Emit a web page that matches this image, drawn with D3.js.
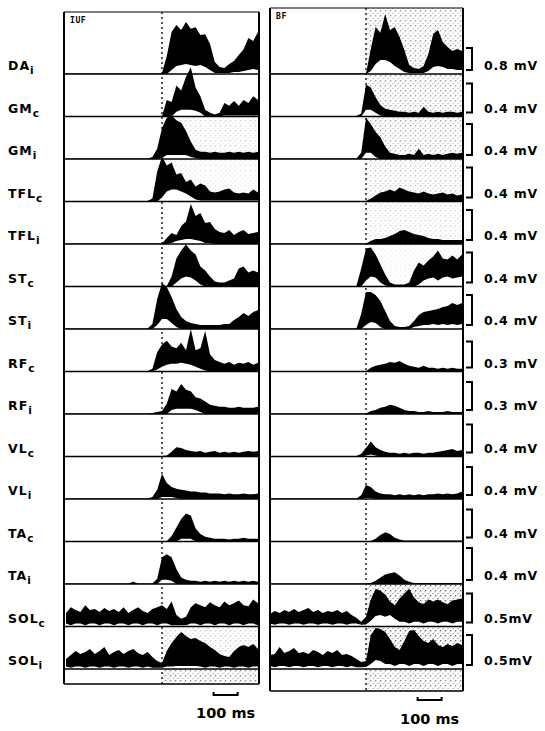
<!DOCTYPE html>
<html>
  <head>
    <meta charset="UTF-8">
    <title>EMG envelopes - IUF / BF</title>
    <style>
      body { margin: 0; background: #fff; }
      text { font-family: "DejaVu Sans", sans-serif; font-weight: bold; fill: #000; }
    </style>
  </head>
<body>
<script src="https://d3js.org/d3.v7.min.js"></script>
<script>
// rows (top to bottom)
var muscles = ["DA","GM","GM","TFL","TFL","ST","ST","RF","RF","VL","VL","TA","TA","SOL","SOL"];
var sides   = ["i","c","i","c","i","c","i","c","i","c","i","c","i","c","i"];
var calibMv = [0.8,0.4,0.4,0.4,0.4,0.4,0.4,0.3,0.3,0.4,0.4,0.4,0.4,0.5,0.5];
var calibText = ["0.8 mV","0.4 mV","0.4 mV","0.4 mV","0.4 mV","0.4 mV","0.4 mV","0.3 mV","0.3 mV",
                 "0.4 mV","0.4 mV","0.4 mV","0.4 mV","0.5mV","0.5mV"];
var panelNames = ["IUF","BF"];
var scaleBarMs = 100;

// sample times (ms, 0 = dashed line), envelopes in microvolts
var timeMs = d3.range(-400, 401, 20);

var iufUpper = [
  /* DA i */ [18,18,18,18,18,18,18,18,18,18,18,18,18,18,18,18,18,18,18,18,36,655,1530,1785,1600,1890,1650,1700,1420,1450,1090,435,255,220,365,470,690,900,1310,1200,1530],
  /* GM c */ [7,7,7,7,7,7,7,7,7,7,7,7,7,7,7,7,7,7,7,7,7,227,200,427,360,547,680,400,280,93,53,27,53,187,147,213,147,227,187,280,227],
  /* GM i */ [7,7,7,7,7,7,7,7,7,7,7,7,7,7,7,7,7,7,27,133,400,533,560,500,467,360,227,120,93,93,80,93,80,80,93,80,93,80,93,80,93],
  /* TFL c */ [7,7,7,7,7,7,7,7,7,7,7,7,7,7,7,7,7,7,40,400,600,480,520,360,380,260,293,200,240,213,133,120,133,160,173,120,107,120,107,160,120],
  /* TFL i */ [7,7,7,7,7,7,7,7,7,7,7,7,7,7,7,7,7,7,7,7,7,80,147,120,240,300,533,373,413,280,293,200,160,147,187,120,160,187,133,147,160],
  /* ST c */ [7,7,7,7,7,7,7,7,7,7,7,7,7,7,7,7,7,7,7,7,7,7,133,373,480,560,480,427,267,213,133,67,53,53,80,107,240,267,187,213,187],
  /* ST i */ [7,7,7,7,7,7,7,7,7,7,7,7,7,7,7,7,7,7,67,400,613,560,427,267,160,107,80,67,53,53,53,53,53,67,67,120,160,213,173,227,253],
  /* RF c */ [6,6,6,6,6,6,6,6,6,6,6,6,6,6,6,6,6,6,33,222,311,356,289,267,333,244,489,244,267,467,200,133,111,89,111,78,100,89,111,78,100],
  /* RF i */ [6,6,6,6,6,6,6,6,6,6,6,6,6,6,6,6,6,6,11,22,33,111,267,240,322,260,244,180,167,133,100,89,78,78,67,67,78,67,67,67,78],
  /* VL c */ [7,7,7,7,7,7,7,7,7,7,7,7,7,7,7,7,7,7,7,7,7,13,67,133,120,93,80,67,80,53,67,80,53,67,53,67,53,67,80,67,80],
  /* VL i */ [7,7,7,7,7,7,7,7,7,7,7,7,7,7,7,7,7,7,27,133,360,227,173,147,133,120,107,107,93,93,80,80,80,67,80,67,67,80,67,67,80],
  /* TA c */ [7,7,7,7,7,7,7,7,7,7,7,7,7,7,7,7,7,7,7,7,7,7,80,200,320,400,373,187,107,67,53,40,40,40,27,40,40,53,40,40,40],
  /* TA i */ [7,7,7,7,7,7,7,7,7,7,7,7,7,7,27,7,7,7,7,67,333,373,333,187,80,53,40,40,27,40,27,40,27,40,27,40,27,40,27,40,27],
  /* SOL c */ [233,333,283,250,367,283,300,250,317,267,300,250,333,233,283,333,267,233,300,333,367,300,433,200,133,167,333,400,367,333,417,367,333,433,367,400,450,367,350,467,400],
  /* SOL i */ [167,233,300,250,283,333,250,300,367,233,283,317,250,300,333,267,233,283,200,133,100,300,433,533,617,550,500,517,467,433,367,317,250,217,200,300,367,400,367,417,333]
];
var iufLower = [
  /* DA i */ [0,0,0,0,0,0,0,0,0,0,0,0,0,0,0,0,0,0,0,0,0,0,145,290,330,365,330,290,330,255,145,36,36,36,36,73,73,110,145,180,145],
  /* GM c */ [0,0,0,0,0,0,0,0,0,0,0,0,0,0,0,0,0,0,0,0,0,0,0,67,93,93,93,80,53,0,0,0,0,13,13,13,13,13,13,13,13],
  /* GM i */ [0,0,0,0,0,0,0,0,0,0,0,0,0,0,0,0,0,0,0,0,13,53,53,53,53,53,27,13,0,0,0,0,0,0,0,0,0,0,0,0,0],
  /* TFL c */ [0,0,0,0,0,0,0,0,0,0,0,0,0,0,0,0,0,0,0,0,53,133,160,160,133,107,67,27,13,13,13,13,13,13,13,13,13,13,13,13,13],
  /* TFL i */ [0,0,0,0,0,0,0,0,0,0,0,0,0,0,0,0,0,0,0,0,0,0,13,40,53,67,67,53,40,13,13,0,0,0,0,0,0,0,0,0,0],
  /* ST c */ [0,0,0,0,0,0,0,0,0,0,0,0,0,0,0,0,0,0,0,0,0,0,0,53,107,133,120,80,27,0,0,0,0,0,0,0,0,0,0,0,0],
  /* ST i */ [0,0,0,0,0,0,0,0,0,0,0,0,0,0,0,0,0,0,0,53,133,133,80,27,0,0,0,0,0,0,0,0,0,0,0,0,0,0,0,0,0],
  /* RF c */ [0,0,0,0,0,0,0,0,0,0,0,0,0,0,0,0,0,0,0,22,56,78,89,89,100,89,78,56,33,11,0,0,0,0,0,0,0,0,0,0,0],
  /* RF i */ [0,0,0,0,0,0,0,0,0,0,0,0,0,0,0,0,0,0,0,0,0,0,44,56,56,56,56,44,22,0,0,0,0,0,0,0,0,0,0,0,0],
  /* VL c */ null,
  /* VL i */ [0,0,0,0,0,0,0,0,0,0,0,0,0,0,0,0,0,0,0,0,27,27,27,13,0,0,0,0,0,0,0,0,0,0,0,0,0,0,0,0,0],
  /* TA c */ [0,0,0,0,0,0,0,0,0,0,0,0,0,0,0,0,0,0,0,0,0,0,0,0,40,40,40,0,0,0,0,0,0,0,0,0,0,0,0,0,0],
  /* TA i */ [0,0,0,0,0,0,0,0,0,0,0,0,0,0,0,0,0,0,0,0,53,53,40,0,0,0,0,0,0,0,0,0,0,0,0,0,0,0,0,0,0],
  /* SOL c */ [50,20,50,50,20,50,50,20,50,50,20,50,50,20,50,50,20,50,50,20,50,50,20,20,20,20,50,50,20,50,50,20,50,50,20,50,50,20,50,50,20],
  /* SOL i */ [40,20,40,40,20,40,40,20,40,40,20,40,40,20,40,40,20,40,20,20,20,40,40,50,50,50,50,50,40,20,40,40,20,40,40,20,40,40,20,40,40]
];

var bfUpper = [
  /* DA i */ [18,18,18,18,18,18,18,18,18,18,18,18,18,18,18,18,18,18,18,18,18,910,1710,1500,2185,1600,1710,1345,875,330,220,180,290,730,1455,1600,1165,985,835,910,835],
  /* GM c */ [7,7,7,7,7,7,7,7,7,7,7,7,7,7,7,7,7,7,7,40,440,400,267,160,107,93,80,67,67,53,67,53,133,67,53,67,53,67,67,53,67],
  /* GM i */ [7,7,7,7,7,7,7,7,7,7,7,7,7,7,7,7,7,7,7,80,533,453,347,280,160,80,67,53,53,67,53,133,53,67,53,67,53,67,80,67,80],
  /* TFL c */ [7,7,7,7,7,7,7,7,7,7,7,7,7,7,7,7,7,7,7,7,7,40,80,120,133,160,133,187,160,133,120,107,133,107,93,107,120,93,107,80,93],
  /* TFL i */ [7,7,7,7,7,7,7,7,7,7,7,7,7,7,7,7,7,7,7,7,7,40,67,67,80,107,133,173,187,160,133,120,107,80,67,67,53,53,53,53,53],
  /* ST c */ [7,7,7,7,7,7,7,7,7,7,7,7,7,7,7,7,7,7,7,240,507,520,427,293,160,53,27,27,27,53,213,320,280,347,400,480,373,360,413,360,427],
  /* ST i */ [7,7,7,7,7,7,7,7,7,7,7,7,7,7,7,7,7,7,7,200,493,493,453,373,240,107,40,27,27,40,107,187,227,240,253,267,293,307,347,320,347],
  /* RF c */ [6,6,6,6,6,6,6,6,6,6,6,6,6,6,6,6,6,6,6,6,6,44,67,78,89,111,100,122,89,67,56,44,67,44,44,33,44,33,44,33,33],
  /* RF i */ [6,6,6,6,6,6,6,6,6,6,6,6,6,6,6,6,6,6,6,6,6,33,44,67,78,100,89,67,44,33,33,22,22,33,22,22,22,33,22,22,22],
  /* VL c */ [7,7,7,7,7,7,7,7,7,7,7,7,7,7,7,7,7,7,7,40,120,213,133,93,67,53,53,40,53,40,53,53,40,53,53,67,80,93,107,80,93],
  /* VL i */ [7,7,7,7,7,7,7,7,7,7,7,7,7,7,7,7,7,7,7,53,200,173,107,80,67,67,53,67,53,67,53,67,53,67,67,80,67,80,67,80,107],
  /* TA c */ [7,7,7,7,7,7,7,7,7,7,7,7,7,7,7,7,7,7,7,7,7,7,40,93,133,107,53,27,13,13,13,13,13,13,13,13,13,13,13,13,13],
  /* TA i */ [7,7,7,7,7,7,7,7,7,7,7,7,7,7,7,7,7,7,7,7,7,13,40,80,120,133,147,107,53,27,13,13,13,13,13,13,13,13,13,13,13],
  /* SOL c */ [217,267,233,283,250,300,250,283,317,250,283,233,267,250,283,233,267,200,150,83,167,467,650,617,550,433,367,483,567,650,500,417,383,467,433,467,417,383,450,467,483],
  /* SOL i */ [233,250,367,267,300,350,267,283,250,317,283,233,300,267,317,233,250,217,167,117,133,567,683,667,617,500,367,317,467,633,650,550,467,433,500,400,367,417,383,433,400]
];
var bfLower = [
  /* DA i */ [0,0,0,0,0,0,0,0,0,0,0,0,0,0,0,0,0,0,0,0,0,110,365,510,510,435,290,180,73,36,36,36,36,110,255,290,255,180,180,145,145],
  /* GM c */ [0,0,0,0,0,0,0,0,0,0,0,0,0,0,0,0,0,0,0,0,93,93,53,13,0,0,0,0,0,0,0,0,0,0,0,0,0,0,0,0,0],
  /* GM i */ [0,0,0,0,0,0,0,0,0,0,0,0,0,0,0,0,0,0,0,0,80,80,27,0,0,0,0,0,0,0,0,0,0,0,0,0,0,0,0,0,0],
  /* TFL c */ null,
  /* TFL i */ null,
  /* ST c */ [0,0,0,0,0,0,0,0,0,0,0,0,0,0,0,0,0,0,0,0,80,133,120,53,13,0,0,0,0,0,0,27,80,107,120,80,120,133,107,120,133],
  /* ST i */ [0,0,0,0,0,0,0,0,0,0,0,0,0,0,0,0,0,0,0,0,53,93,80,27,0,0,0,0,0,0,27,40,53,53,67,53,67,53,67,53,67],
  /* RF c */ null,
  /* RF i */ null,
  /* VL c */ [0,0,0,0,0,0,0,0,0,0,0,0,0,0,0,0,0,0,0,0,13,27,13,0,0,0,0,0,0,0,0,0,0,0,0,0,0,0,0,0,0],
  /* VL i */ [0,0,0,0,0,0,0,0,0,0,0,0,0,0,0,0,0,0,0,0,13,13,0,0,0,0,0,0,0,0,0,0,0,0,0,0,0,0,0,0,0],
  /* TA c */ null,
  /* TA i */ null,
  /* SOL c */ [50,30,50,50,30,50,50,30,50,50,30,50,50,30,50,50,30,50,50,30,33,100,183,200,167,200,133,83,83,50,83,83,50,83,83,50,83,83,50,83,83],
  /* SOL i */ [50,30,50,50,30,50,50,30,50,50,30,50,50,30,50,50,30,50,30,30,33,83,150,133,83,83,50,83,83,50,83,83,50,83,83,50,83,83,50,83,83]
];

// stipple density behind each row (right of the dashed line), last value = strip under SOL i
var iufShade = [0,0,0.25,0.15,0,0,0,0,0,0,0,0,0,0,0.3, 0.65];
var bfShade  = [0.55,0.55,0.5,0.35,0.25,0.1,0,0,0,0,0,0,0,0.85,0.85, 0.65];

// layout
var width = 545, height = 731;
var firstBase = 74, rowStep = 42.5;
var bracketPx = [22,29,31,30,30,30,30,26,28,28,28,28,32,29,30];
var panels = [
  { name: panelNames[0], x0: 64, x1: 259, zero: 162, top: 12, bottom: 684, upper: iufUpper, lower: iufLower, shade: iufShade, barY: 695, textY: 718 },
  { name: panelNames[1], x0: 270, x1: 463, zero: 366, top: 8, bottom: 691, upper: bfUpper, lower: bfLower, shade: bfShade, barY: 700, textY: 724 }
];
function rowBase(i) { return firstBase + rowStep * i; }

var svg = d3.select("body").append("svg")
    .attr("width", width)
    .attr("height", height);

svg.append("rect").attr("width", width).attr("height", height).attr("fill", "#fff");

var defs = svg.append("defs");
var pat = defs.append("pattern")
    .attr("id", "stipple")
    .attr("width", 5).attr("height", 5)
    .attr("patternUnits", "userSpaceOnUse");
pat.append("rect").attr("x", 0).attr("y", 0).attr("width", 1.3).attr("height", 1.3).attr("fill", "#444");
pat.append("rect").attr("x", 2.5).attr("y", 3).attr("width", 1.1).attr("height", 1.1).attr("fill", "#666");
pat.append("rect").attr("x", 4).attr("y", 1.5).attr("width", 0.9).attr("height", 0.9).attr("fill", "#888");

panels.forEach(function(p) {
  var x = d3.scaleLinear().domain([-400, 400]).range([p.zero - 96, p.zero + 96]);
  var g = svg.append("g");

  // stippled background
  p.shade.forEach(function(s, i) {
    if (!s) return;
    var yTop = i === 0 ? p.top : rowBase(i - 1);
    var yBot = i < muscles.length ? rowBase(i) : p.bottom;
    g.append("rect")
      .attr("x", p.zero).attr("y", yTop)
      .attr("width", p.x1 - p.zero).attr("height", yBot - yTop)
      .attr("fill", "url(#stipple)")
      .attr("opacity", s);
  });

  // dashed reference line
  g.append("line")
    .attr("x1", p.zero).attr("x2", p.zero)
    .attr("y1", p.top).attr("y2", p.bottom)
    .attr("stroke", "#000").attr("stroke-width", 1.3)
    .attr("stroke-dasharray", "2,3");

  // traces
  muscles.forEach(function(m, i) {
    var base = rowBase(i);
    var y = d3.scaleLinear().domain([0, calibMv[i] * 1000]).range([base, base - bracketPx[i]]);
    var area = d3.area()
      .x(function(d, j) { return x(timeMs[j]); })
      .y0(base)
      .y1(function(d) { return y(d); });
    g.append("path").datum(p.upper[i]).attr("d", area).attr("fill", "#000");
    if (p.lower[i]) {
      g.append("path").datum(p.lower[i]).attr("d", area).attr("fill", "#fff");
    }
    g.append("line")
      .attr("x1", p.x0).attr("x2", p.x1)
      .attr("y1", base).attr("y2", base)
      .attr("stroke", "#000").attr("stroke-width", 1.6);
  });

  // frame
  g.append("line").attr("x1", p.x0).attr("x2", p.x1).attr("y1", p.top).attr("y2", p.top)
    .attr("stroke", "#000").attr("stroke-width", 1.2);
  g.append("line").attr("x1", p.x0).attr("x2", p.x1).attr("y1", p.bottom).attr("y2", p.bottom)
    .attr("stroke", "#000").attr("stroke-width", 1.5);
  [p.x0, p.x1].forEach(function(xx) {
    g.append("line").attr("x1", xx).attr("x2", xx).attr("y1", p.top).attr("y2", p.bottom)
      .attr("stroke", "#000").attr("stroke-width", 2);
  });

  g.append("text")
    .attr("x", p.x0 + 6).attr("y", p.top + 11)
    .style("font-family", "'DejaVu Sans Mono', monospace")
    .attr("font-size", 8).attr("letter-spacing", 0.6)
    .text(p.name);

  // 100 ms scale bar
  var bx1 = x(215), bx2 = x(215 + scaleBarMs);
  g.append("path")
    .attr("d", "M" + bx1 + "," + (p.barY - 3) + "V" + p.barY + "H" + bx2 + "V" + (p.barY - 3))
    .attr("fill", "none").attr("stroke", "#000").attr("stroke-width", 2);
  g.append("text")
    .attr("x", (bx1 + bx2) / 2).attr("y", p.textY)
    .attr("text-anchor", "middle")
    .attr("font-size", 14.5)
    .text(scaleBarMs + " ms");
});

// muscle labels
var labels = svg.append("g");
muscles.forEach(function(m, i) {
  var t = labels.append("text")
    .attr("x", 8).attr("y", rowBase(i) - 4)
    .attr("font-size", 12.5).attr("letter-spacing", 1);
  t.append("tspan").text(m);
  t.append("tspan").attr("font-size", 10.5).attr("dy", 4).text(sides[i]);
});

// calibration brackets
var cal = svg.append("g");
muscles.forEach(function(m, i) {
  var bot = rowBase(i) - 4, top = bot - bracketPx[i];
  cal.append("path")
    .attr("d", "M466," + top + "H472V" + bot + "H466")
    .attr("fill", "none").attr("stroke", "#000").attr("stroke-width", 2);
  cal.append("text")
    .attr("x", 484).attr("y", rowBase(i) - 4)
    .attr("font-size", 12.5).attr("letter-spacing", 0.8)
    .text(calibText[i]);
});
</script>
</body>
</html>
